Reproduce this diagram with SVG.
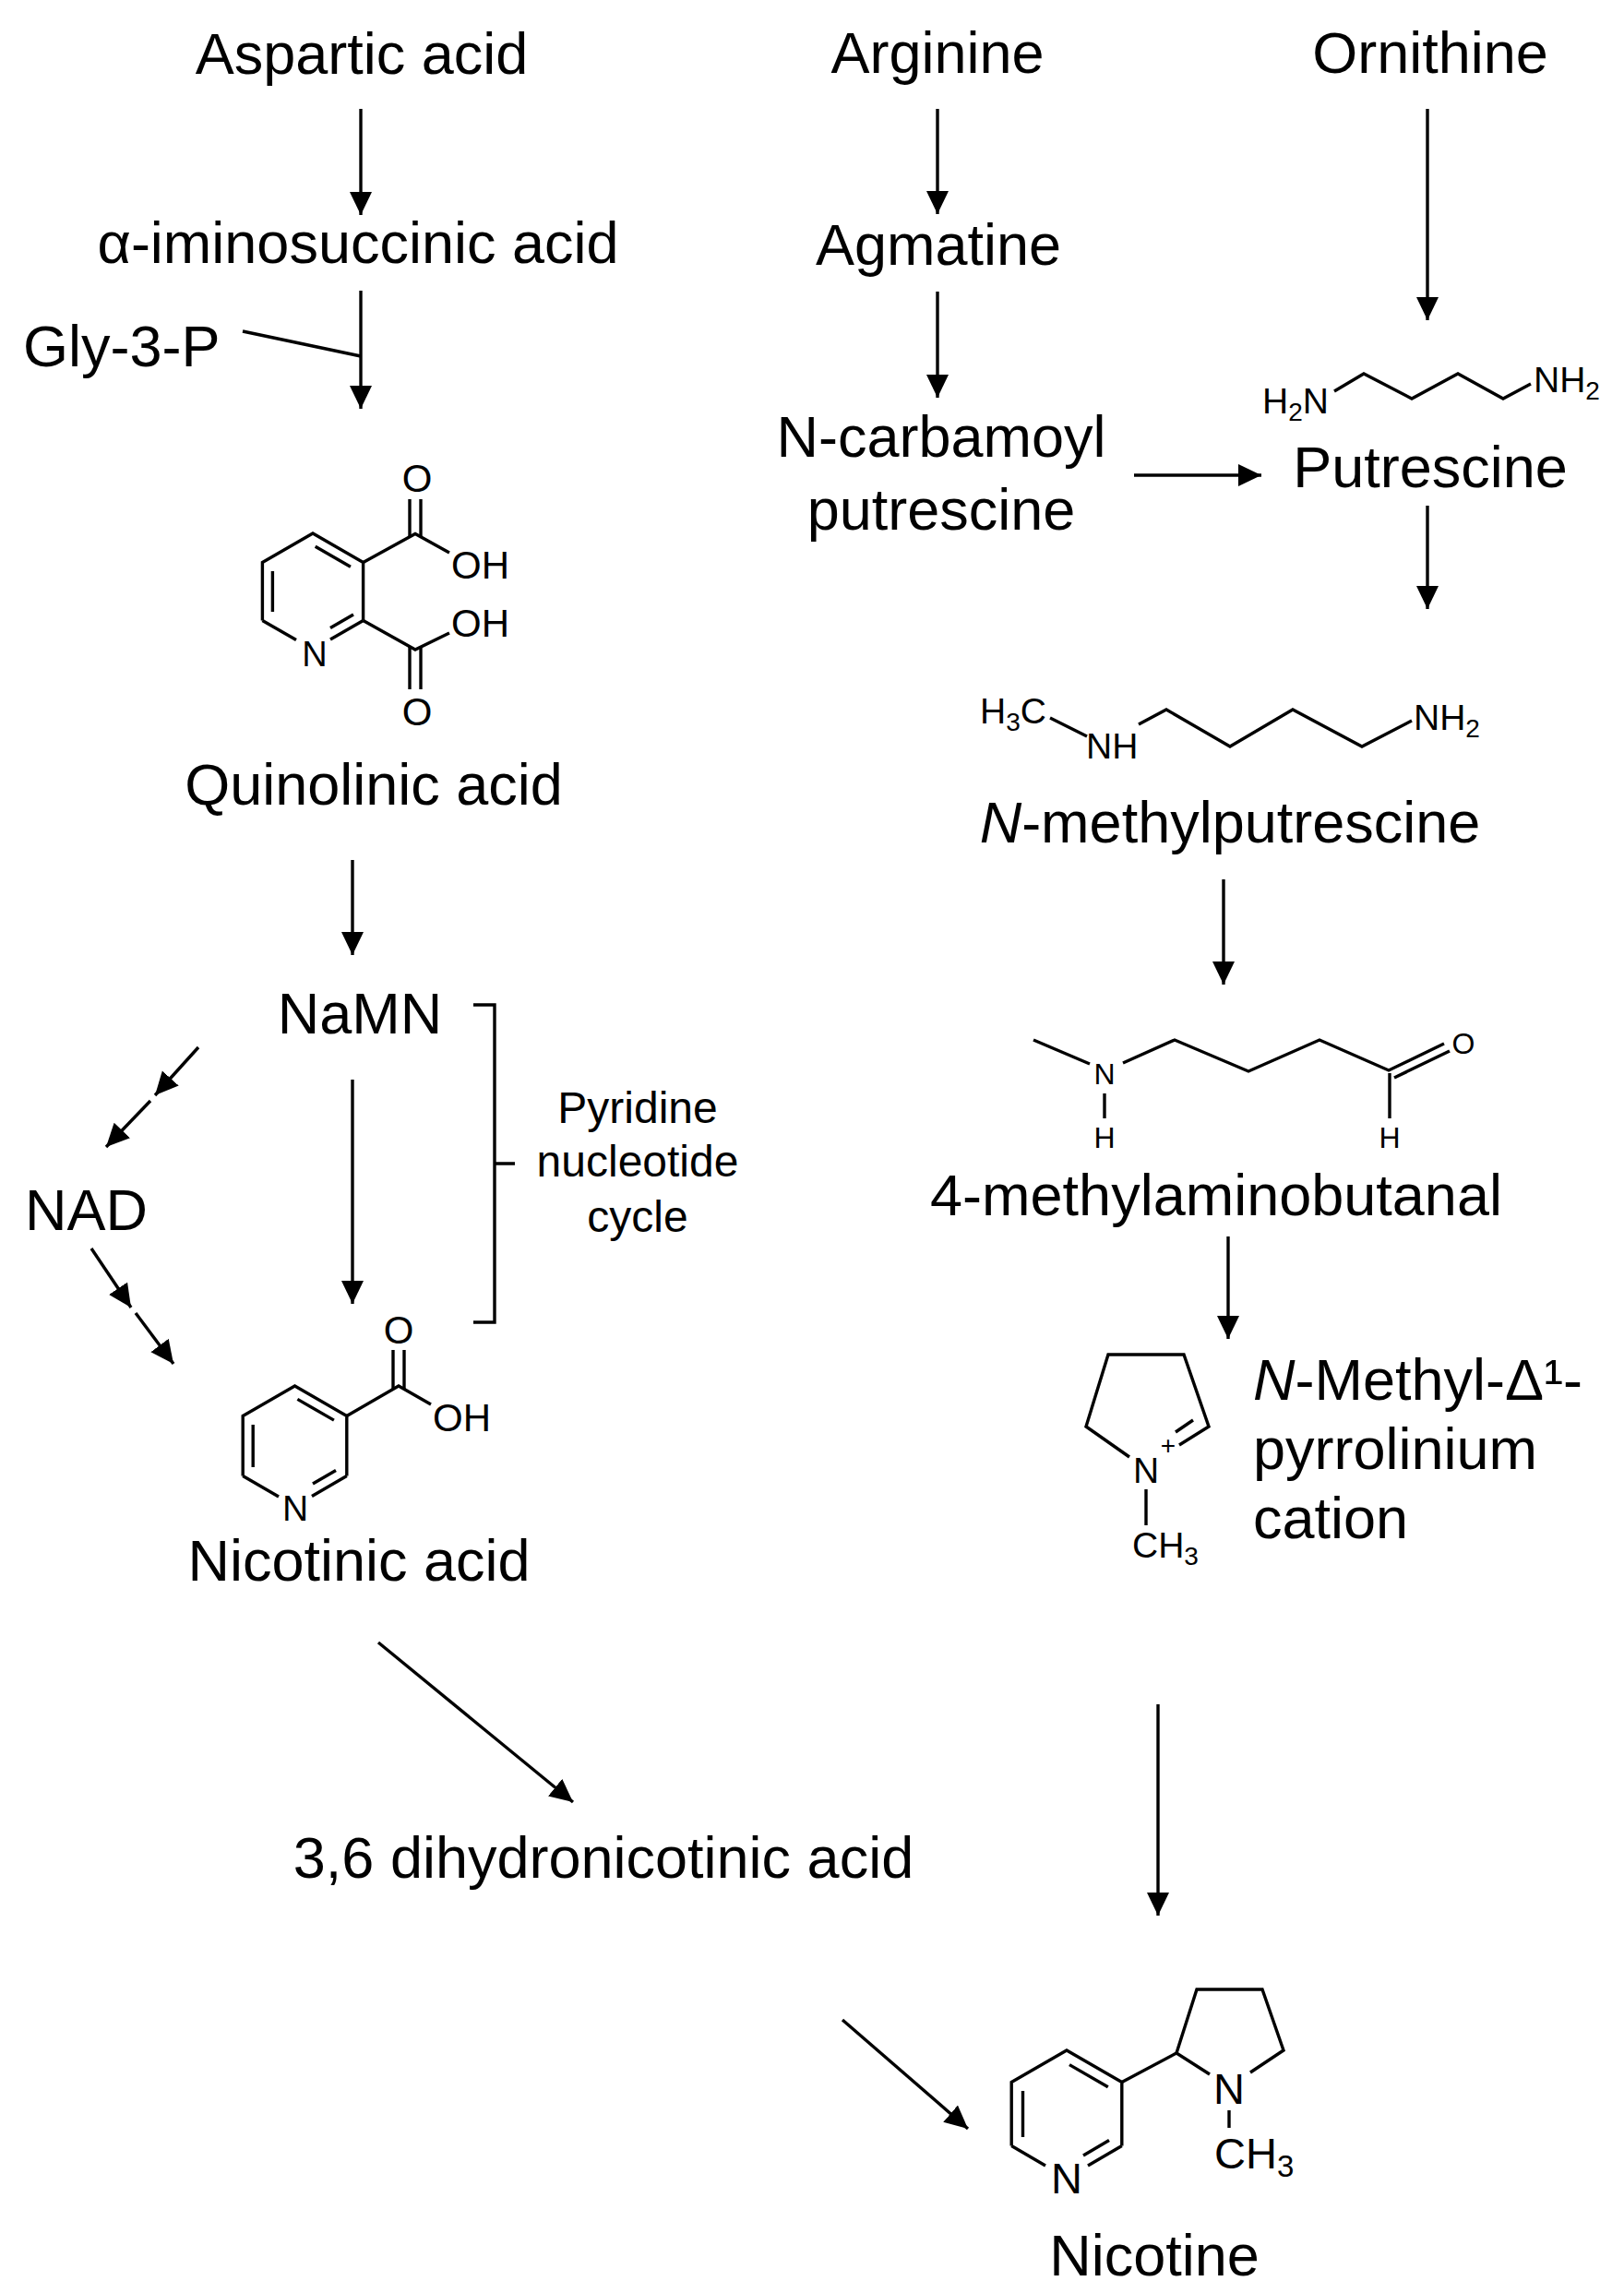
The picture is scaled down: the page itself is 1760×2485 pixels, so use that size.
<svg xmlns="http://www.w3.org/2000/svg" width="1760" height="2485" viewBox="0 0 1760 2485">
<defs>
<marker id="ah" markerUnits="userSpaceOnUse" markerWidth="27" markerHeight="25" refX="25" refY="12" orient="auto">
<path d="M0,0 L25,12 L0,24 Z" fill="#000"/>
</marker>
<style>
text{font-family:"Liberation Sans",Arial,Helvetica,sans-serif;fill:#000}
.lb{font-size:63px;text-anchor:middle}
.lbs{font-size:63px}
.sm{font-size:48px;text-anchor:middle}
.b{fill:none;stroke:#000;stroke-width:3.4;stroke-linejoin:miter;stroke-linecap:butt}
.c{fill:none;stroke:#000;stroke-width:3.4}
.ca{fill:none;stroke:#000;stroke-width:3.4;marker-end:url(#ah)}
.at42{font-size:42px}
.at39{font-size:39px}
.at32{font-size:32px;text-anchor:middle}
.at38{font-size:38px}
.at47{font-size:47px}
</style>
</defs>
<rect width="1760" height="2485" fill="#fff"/>

<g id="connectors">
<line class="ca" x1="391" y1="118" x2="391" y2="233"/>
<line class="ca" x1="391" y1="315" x2="391" y2="443"/>
<line class="c" x1="263" y1="359" x2="391" y2="386"/>
<line class="ca" x1="1016" y1="118" x2="1016" y2="232"/>
<line class="ca" x1="1016" y1="316" x2="1016" y2="431"/>
<line class="ca" x1="1547" y1="118" x2="1547" y2="347"/>
<line class="ca" x1="1229" y1="515" x2="1367" y2="515"/>
<line class="ca" x1="1547" y1="548" x2="1547" y2="660"/>
<line class="ca" x1="382" y1="932" x2="382" y2="1035"/>
<line class="ca" x1="382" y1="1170" x2="382" y2="1413"/>
<line class="ca" x1="215" y1="1135" x2="168" y2="1187"/>
<line class="ca" x1="163" y1="1193" x2="115" y2="1243"/>
<line class="ca" x1="99" y1="1353" x2="142" y2="1417"/>
<line class="ca" x1="147" y1="1423" x2="188" y2="1478"/>
<line class="ca" x1="1326" y1="953" x2="1326" y2="1067"/>
<line class="ca" x1="1331" y1="1340" x2="1331" y2="1451"/>
<line class="ca" x1="410" y1="1780" x2="621" y2="1953"/>
<line class="ca" x1="1255" y1="1847" x2="1255" y2="2076"/>
<line class="ca" x1="913" y1="2189" x2="1049" y2="2307"/>
<path class="c" d="M513,1089 H536 V1433 H513 M536,1261 H558"/>
</g>

<g id="aspartic-acid"><text class="lb" x="392" y="80">Aspartic acid</text></g>
<g id="iminosuccinic-acid"><text class="lb" x="388" y="285">α-iminosuccinic acid</text></g>
<g id="gly-3-p"><text class="lbs" x="25" y="397">Gly-3-P</text></g>
<g id="arginine"><text class="lb" x="1016" y="79">Arginine</text></g>
<g id="ornithine"><text class="lb" x="1550" y="79">Ornithine</text></g>
<g id="agmatine"><text class="lb" x="1017" y="287">Agmatine</text></g>
<g id="n-carbamoyl-putrescine">
<text class="lb" x="1020" y="495">N-carbamoyl</text>
<text class="lb" x="1020" y="574">putrescine</text>
</g>

<g id="putrescine">
<polyline class="b" points="1446,424 1478,405 1530,432 1580,405 1629,432 1659,416"/>
<text class="at39" x="1368" y="448">H<tspan font-size="28" dy="8">2</tspan><tspan dy="-8">N</tspan></text>
<text class="at39" x="1662" y="425">NH<tspan font-size="28" dy="8">2</tspan></text>
<text class="lb" x="1550" y="528">Putrescine</text>
</g>

<g id="n-methylputrescine">
<line class="b" x1="1138" y1="778" x2="1178" y2="798"/>
<polyline class="b" points="1234,785 1264,769 1333,809 1401,769 1476,809 1530,781"/>
<text class="at39" x="1062" y="784">H<tspan font-size="28" dy="8">3</tspan><tspan dy="-8">C</tspan></text>
<text class="at39" x="1177" y="822">NH</text>
<text class="at39" x="1532" y="791">NH<tspan font-size="28" dy="8">2</tspan></text>
<text class="lb" x="1333" y="913"><tspan font-style="italic">N</tspan>-methylputrescine</text>
</g>

<g id="quinolinic-acid">
<polyline class="b" points="284.4,672.5 284.4,609.5 339,578 393.6,609.5 393.6,672.5"/>
<line class="b" x1="284.4" y1="672.5" x2="321" y2="693.5"/>
<line class="b" x1="393.6" y1="672.5" x2="358" y2="693"/>
<line class="b" x1="341.7" y1="592.2" x2="379.9" y2="614.3"/>
<line class="b" x1="295.4" y1="619" x2="295.4" y2="663"/>
<line class="b" x1="383" y1="666" x2="358" y2="680.5"/>
<polyline class="b" points="393.6,609.5 450,578.5 487,599"/>
<line class="b" x1="444" y1="541" x2="444" y2="581"/>
<line class="b" x1="456" y1="541" x2="456" y2="581"/>
<polyline class="b" points="393.6,672.5 450,704 487,686"/>
<line class="b" x1="444" y1="701" x2="444" y2="747"/>
<line class="b" x1="456" y1="701" x2="456" y2="747"/>
<text class="at38" x="341" y="722" text-anchor="middle">N</text>
<text class="at42" x="452" y="533" text-anchor="middle">O</text>
<text class="at42" x="489" y="627">OH</text>
<text class="at42" x="489" y="690">OH</text>
<text class="at42" x="452" y="786" text-anchor="middle">O</text>
<text class="lb" x="405" y="872">Quinolinic acid</text>
</g>

<g id="namn"><text class="lb" x="390" y="1120">NaMN</text></g>
<g id="nad"><text class="lbs" x="27" y="1333">NAD</text></g>
<g id="pyridine-nucleotide-cycle">
<text class="sm" x="691" y="1217">Pyridine</text>
<text class="sm" x="691" y="1275">nucleotide</text>
<text class="sm" x="691" y="1335">cycle</text>
</g>

<g id="nicotinic-acid">
<polyline class="b" points="263.2,1599.5 263.2,1534.5 319.5,1502 375.8,1534.5 375.8,1599.5"/>
<line class="b" x1="263.2" y1="1599.5" x2="302" y2="1622"/>
<line class="b" x1="375.8" y1="1599.5" x2="338" y2="1621.5"/>
<line class="b" x1="322.4" y1="1516.4" x2="361.9" y2="1539.1"/>
<line class="b" x1="274.2" y1="1544" x2="274.2" y2="1590"/>
<line class="b" x1="364" y1="1593.5" x2="339" y2="1608"/>
<polyline class="b" points="375.8,1534.5 432,1502 467,1522"/>
<line class="b" x1="426" y1="1463" x2="426" y2="1505"/>
<line class="b" x1="438" y1="1463" x2="438" y2="1505"/>
<text class="at42" x="432" y="1456" text-anchor="middle">O</text>
<text class="at42" x="469" y="1551">OH</text>
<text class="at39" x="320" y="1648" text-anchor="middle">N</text>
<text class="lb" x="389" y="1713">Nicotinic acid</text>
</g>

<g id="methylaminobutanal">
<line class="b" x1="1120" y1="1127" x2="1181" y2="1153"/>
<polyline class="b" points="1217,1152 1273,1127 1353,1161 1430,1127 1505,1160 1565,1131"/>
<line class="b" x1="1511" y1="1168" x2="1571" y2="1139"/>
<line class="b" x1="1197" y1="1185" x2="1197" y2="1212"/>
<line class="b" x1="1506" y1="1163" x2="1506" y2="1212"/>
<text class="at32" x="1197" y="1175">N</text>
<text class="at32" x="1197" y="1244">H</text>
<text class="at32" x="1506" y="1244">H</text>
<text class="at32" x="1586" y="1142">O</text>
<text class="lb" x="1318" y="1317">4-methylaminobutanal</text>
</g>

<g id="pyrrolinium-cation">
<polyline class="b" points="1224,1579 1177,1546 1201,1468 1283,1468 1310,1546 1278,1566"/>
<line class="b" x1="1293" y1="1539" x2="1274" y2="1552"/>
<line class="b" x1="1242" y1="1614" x2="1242" y2="1653"/>
<text class="at39" x="1242" y="1607" text-anchor="middle">N</text>
<text x="1266" y="1576" font-size="28" text-anchor="middle">+</text>
<text class="at39" x="1227" y="1688">CH<tspan font-size="28" dy="8">3</tspan></text>
<text class="lbs" x="1358" y="1517"><tspan font-style="italic">N</tspan>-Methyl-Δ¹-</text>
<text class="lbs" x="1358" y="1592">pyrrolinium</text>
<text class="lbs" x="1358" y="1667">cation</text>
</g>

<g id="dihydronicotinic-acid"><text class="lb" x="654" y="2035">3,6 dihydronicotinic acid</text></g>

<g id="nicotine">
<polyline class="b" points="1096.2,2325.5 1096.2,2256.5 1156,2222 1215.8,2256.5 1215.8,2325.5"/>
<line class="b" x1="1096.2" y1="2325.5" x2="1133" y2="2347"/>
<line class="b" x1="1215.8" y1="2325.5" x2="1179" y2="2347"/>
<line class="b" x1="1159" y1="2237.6" x2="1200.8" y2="2261.7"/>
<line class="b" x1="1108.5" y1="2266" x2="1108.5" y2="2316"/>
<line class="b" x1="1202" y1="2319.5" x2="1174" y2="2336"/>
<line class="b" x1="1215.8" y1="2256.5" x2="1275" y2="2225"/>
<polyline class="b" points="1311,2248 1275,2225 1297,2156 1368,2156 1391,2222 1355,2246"/>
<line class="b" x1="1332" y1="2287" x2="1332" y2="2306"/>
<text class="at47" x="1156" y="2377" text-anchor="middle">N</text>
<text class="at47" x="1332" y="2280" text-anchor="middle">N</text>
<text class="at47" x="1316" y="2350">CH<tspan font-size="33" dy="9">3</tspan></text>
<text class="lb" x="1251" y="2466">Nicotine</text>
</g>
</svg>
